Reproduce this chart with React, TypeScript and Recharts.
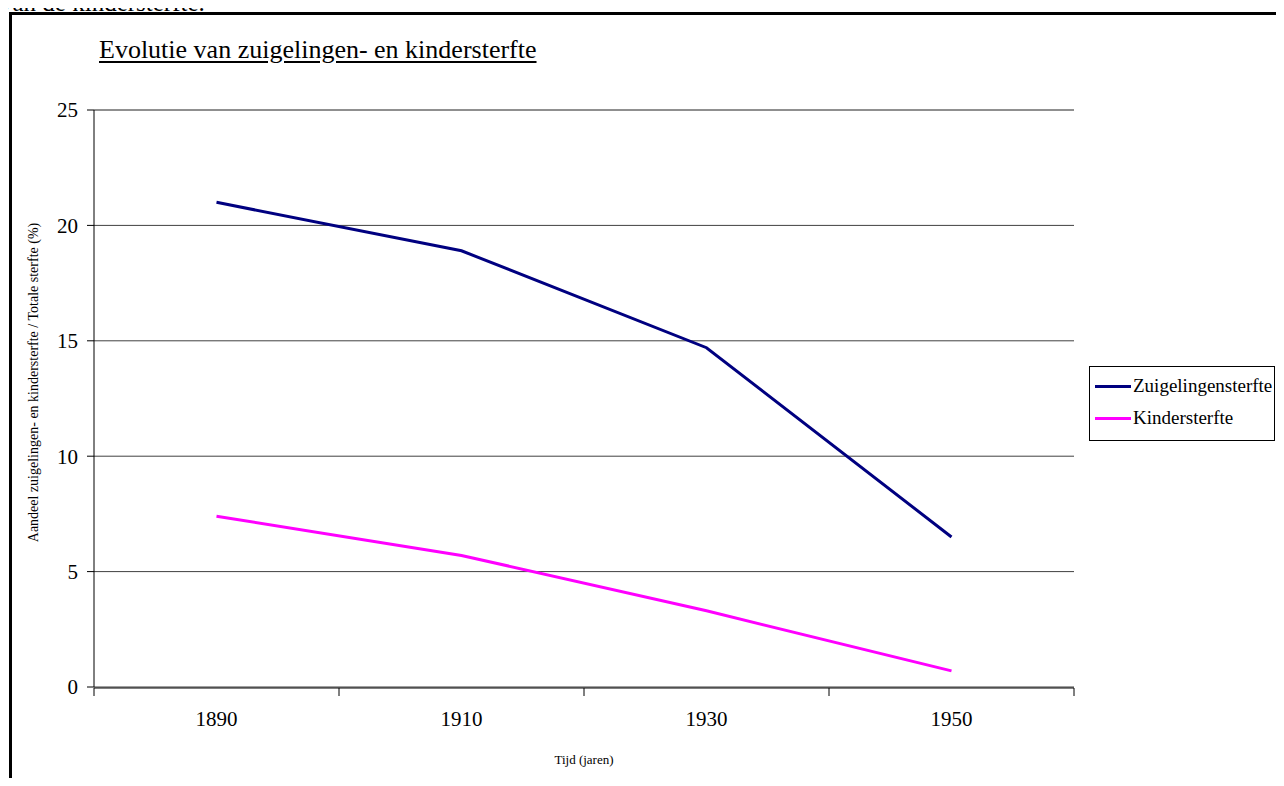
import React from "react";
import {
  CartesianGrid,
  Legend,
  Line,
  LineChart,
  ReferenceLine,
  XAxis,
  YAxis,
} from "recharts";

// Aandeel zuigelingen- en kindersterfte in de totale sterfte (%)
const years = ["1890", "1910", "1930", "1950"];
const zuigelingensterfte = [21.0, 18.9, 14.7, 6.5];
const kindersterfte = [7.4, 5.7, 3.3, 0.7];
const yTicks = [0, 5, 10, 15, 20, 25];
const categoryEdges = [0, 1, 2, 3, 4];

const series = [
  { key: "zuig", name: "Zuigelingensterfte", values: zuigelingensterfte, color: "#000080" },
  { key: "kind", name: "Kindersterfte", values: kindersterfte, color: "#FF00FF" },
];

const data = years.map((year, i) => ({
  year,
  slot: i,
  zuig: zuigelingensterfte[i],
  kind: kindersterfte[i],
}));

const FONT = '"Liberation Serif", "Times New Roman", serif';

function LegendBox({ payload }: any) {
  const order = series.map((s) => s.name);
  const items = [...(payload ?? [])].sort(
    (a: any, b: any) => order.indexOf(a.value) - order.indexOf(b.value)
  );
  return (
    <div
      style={{
        border: "1px solid #000",
        background: "#fff",
        width: 184,
        padding: "3px 0 6px 0",
        fontFamily: FONT,
      }}
    >
      {items.map((entry: any) => (
        <div
          key={entry.value}
          style={{ display: "flex", alignItems: "center", height: 32, paddingLeft: 5 }}
        >
          <span
            style={{
              display: "inline-block",
              width: 36,
              height: 3,
              background: entry.color,
              marginRight: 2,
            }}
          />
          <span style={{ fontSize: 19, color: "#000" }}>{entry.value}</span>
        </div>
      ))}
    </div>
  );
}

function YLabel({ viewBox }: any) {
  const x = viewBox.x + 33;
  const y = viewBox.y + viewBox.height / 2 - 16;
  return (
    <text
      x={x}
      y={y}
      transform={`rotate(-90, ${x}, ${y})`}
      textAnchor="middle"
      dominantBaseline="central"
      fontSize={14}
      fontFamily={FONT}
      fill="#000"
    >
      Aandeel zuigelingen- en kindersterfte / Totale sterfte (%)
    </text>
  );
}

// tick marks only, no text
const NoLabel = () => <g />;

export default function App() {
  return (
    <div
      style={{
        position: "relative",
        margin: -8,
        width: 1284,
        height: 786,
        overflow: "hidden",
        background: "#fff",
        fontFamily: FONT,
      }}
    >
      <div
        style={{
          position: "absolute",
          left: 0,
          top: -12,
          fontSize: 25,
          lineHeight: "30px",
          whiteSpace: "nowrap",
        }}
      >
        van de kindersterfte.
      </div>
      <div
        style={{
          position: "absolute",
          left: 9,
          top: 12,
          width: 1400,
          height: 900,
          border: "3px solid #000",
        }}
      />
      <div
        style={{
          position: "absolute",
          left: 99,
          top: 35,
          fontSize: 26,
          lineHeight: "30px",
          textDecoration: "underline",
          textUnderlineOffset: 3,
          whiteSpace: "nowrap",
        }}
      >
        Evolutie van zuigelingen- en kindersterfte
      </div>
      <div style={{ position: "absolute", left: 0, top: 0 }}>
        <LineChart
          width={1284}
          height={786}
          data={data}
          margin={{ top: 110, right: 210, bottom: 0, left: 0 }}
        >
          <CartesianGrid vertical={false} stroke="#404040" />
          <XAxis
            dataKey="year"
            height={1}
            padding={{ left: 122.5, right: 122.5 }}
            axisLine={false}
            tickLine={false}
            tickSize={0}
            tickMargin={24}
            tick={{ fill: "#000", fontSize: 21, fontFamily: FONT }}
          />
          {/* boundary tick marks between the year categories */}
          <XAxis
            xAxisId="frame"
            dataKey="slot"
            type="number"
            domain={[0, 4]}
            ticks={categoryEdges}
            interval={0}
            allowDataOverflow
            height={98}
            tick={NoLabel}
            tickSize={8}
            tickLine={{ stroke: "#000" }}
            axisLine={{ stroke: "#000" }}
            label={{
              value: "Tijd (jaren)",
              position: "insideBottom",
              offset: 22,
              fill: "#000",
              fontSize: 13,
              fontFamily: FONT,
            }}
          />
          <YAxis
            width={94}
            domain={[0, 25]}
            ticks={yTicks}
            interval={0}
            tickSize={7}
            tickMargin={9}
            tickLine={{ stroke: "#000" }}
            axisLine={{ stroke: "#000" }}
            tick={{ fill: "#000", fontSize: 21, fontFamily: FONT }}
            label={<YLabel />}
          />
          <YAxis
            yAxisId="right"
            orientation="right"
            width={0}
            domain={[0, 25]}
            tick={false}
            tickLine={false}
            axisLine={{ stroke: "#808080" }}
          />
          <ReferenceLine y={25} stroke="#808080" />
          {series.map((s) => (
            <Line
              key={s.key}
              dataKey={s.key}
              name={s.name}
              stroke={s.color}
              strokeWidth={3}
              dot={false}
              activeDot={false}
              isAnimationActive={false}
            />
          ))}
          <Legend
            layout="vertical"
            align="center"
            verticalAlign="middle"
            content={<LegendBox />}
            wrapperStyle={{ left: 1089, top: 366, width: 186 }}
          />
        </LineChart>
      </div>
    </div>
  );
}
